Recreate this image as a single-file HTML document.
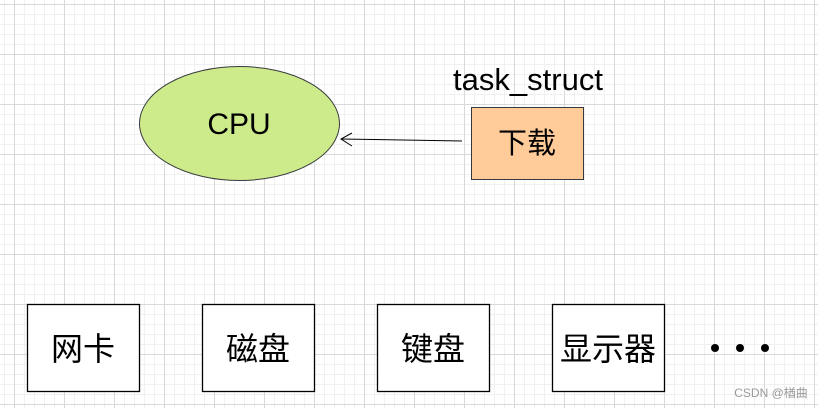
<!DOCTYPE html>
<html><head><style>
body{margin:0;width:818px;height:408px;overflow:hidden;background:#fff;
background-image:
linear-gradient(#d9d9d9 1px,transparent 1px),linear-gradient(90deg,#d9d9d9 1px,transparent 1px),
linear-gradient(#f0f0f0 1px,transparent 1px),linear-gradient(90deg,#f0f0f0 1px,transparent 1px);
background-size:50px 50px,50px 50px,10px 10px,10px 10px;
background-position:14px 4px,14px 4px,14px 4px,14px 4px;
font-family:"Liberation Sans","Noto Sans CJK SC",sans-serif;}
</style></head><body>
<svg width="818" height="408" style="position:absolute;left:0;top:0">
<ellipse cx="239.5" cy="123.5" rx="100" ry="57" fill="#cdeb8b" stroke="#36393d" stroke-width="1"/>
<text x="239" y="134" font-size="30" text-anchor="middle" font-family="Liberation Sans,sans-serif">CPU</text>
<text x="528" y="90" font-size="31" text-anchor="middle" font-family="Liberation Sans,sans-serif">task_struct</text>
<rect x="471.5" y="107.5" width="112" height="72" fill="#ffcc99" stroke="#36393d"/>
<text x="527" y="153" font-size="29" text-anchor="middle" font-family="Noto Sans CJK SC,sans-serif">下载</text>
<line x1="462" y1="141" x2="341" y2="139" stroke="#000" stroke-width="1"/>
<polyline points="352,133 341,139 352,146" fill="none" stroke="#000" stroke-width="1"/>
<g fill="#fff" stroke="#000" stroke-width="1.3">
<rect x="27.5" y="304.5" width="112" height="87"/>
<rect x="202.5" y="304.5" width="112" height="87"/>
<rect x="377.5" y="304.5" width="112" height="87"/>
<rect x="552.5" y="304.5" width="112" height="87"/>
</g>
<g font-size="32" text-anchor="middle" font-family="Noto Sans CJK SC,sans-serif">
<text x="83" y="360">网卡</text>
<text x="258" y="360">磁盘</text>
<text x="433" y="360">键盘</text>
<text x="608" y="360">显示器</text>
</g>
<circle cx="715" cy="348" r="4"/><circle cx="740" cy="348" r="4"/><circle cx="765" cy="348" r="4"/>
<text x="771" y="397" font-size="12" fill="#999" text-anchor="middle" font-family="Liberation Sans,Noto Sans CJK SC,sans-serif">CSDN @楢曲</text>
</svg>
</body></html>
